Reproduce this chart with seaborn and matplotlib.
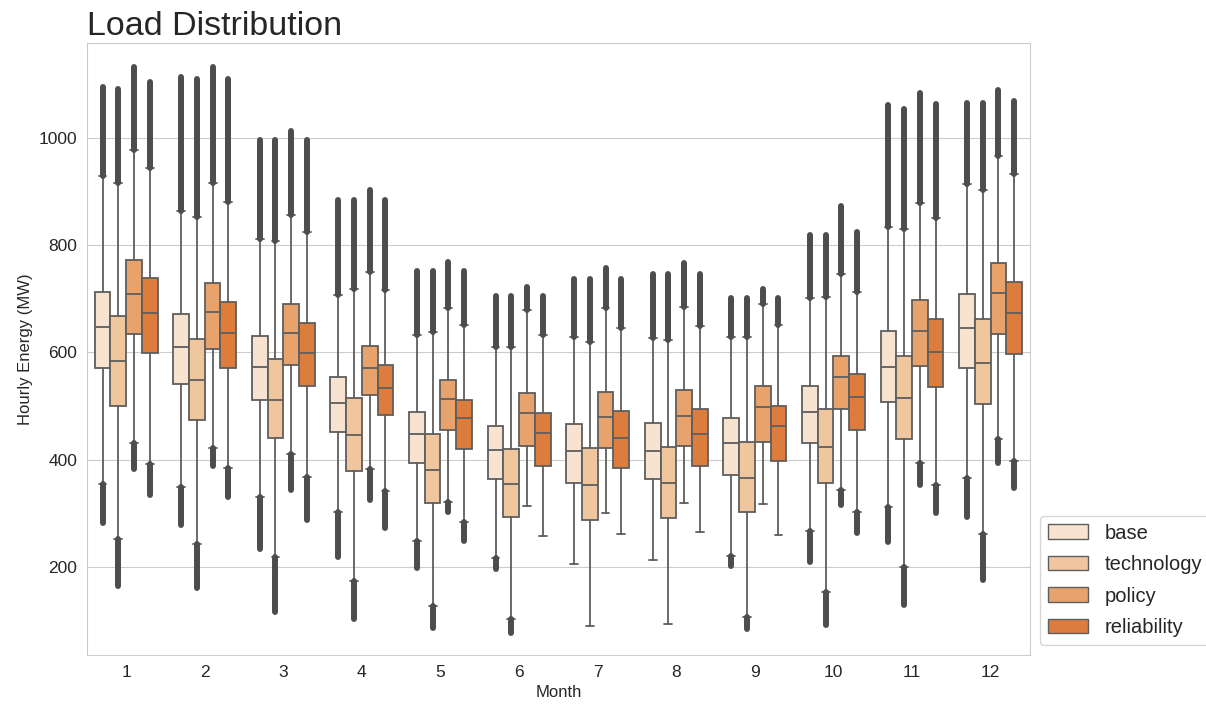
import numpy as np
import pandas as pd
import seaborn as sns
import matplotlib.pyplot as plt
from matplotlib.patches import Patch

# box stats, one row per scenario, one value per month
months = list(range(1, 13))
scenarios = ['base', 'technology', 'policy', 'reliability']
nan = np.nan

flier_top = [[1095, 1113, 997, 885, 752, 705, 736, 747, 701, 819, 1061, 1066],
             [1091, 1110, 997, 885, 752, 705, 736, 747, 701, 819, 1054, 1066],
             [1133, 1132, 1013, 903, 769, 722, 757, 766, 719, 873, 1083, 1089],
             [1105, 1110, 997, 885, 752, 705, 736, 747, 701, 825, 1063, 1068]]
whisker_hi = [[929, 864, 811, 707, 632, 610, 628, 626, 628, 701, 834, 914],
              [916, 853, 808, 719, 638, 610, 620, 623, 628, 703, 830, 903],
              [977, 916, 856, 749, 682, 679, 682, 685, 691, 747, 879, 966],
              [944, 881, 825, 716, 651, 632, 645, 649, 651, 713, 850, 933]]
q3 = [[713, 671, 631, 554, 489, 462, 466, 469, 477, 538, 640, 708],
      [668, 624, 587, 514, 448, 420, 421, 424, 432, 495, 593, 662],
      [772, 730, 690, 612, 548, 525, 526, 530, 538, 594, 698, 767],
      [738, 693, 654, 576, 512, 487, 490, 494, 500, 559, 662, 731]]
median = [[647, 610, 573, 505, 447, 418, 415, 416, 431, 488, 573, 646],
          [584, 548, 511, 446, 380, 354, 352, 357, 366, 424, 515, 581],
          [709, 676, 637, 570, 513, 486, 480, 482, 498, 554, 640, 711],
          [673, 637, 598, 533, 477, 449, 441, 447, 463, 517, 601, 674]]
q1 = [[570, 540, 511, 451, 393, 363, 357, 363, 372, 430, 507, 570],
      [500, 474, 440, 378, 319, 292, 288, 290, 303, 357, 438, 503],
      [635, 606, 576, 520, 456, 425, 421, 425, 433, 494, 574, 635],
      [598, 570, 538, 484, 420, 388, 385, 387, 398, 456, 536, 597]]
whisker_lo = [[355, 349, 331, 303, 248, 216, 206, 212, 220, 267, 312, 365],
              [252, 242, 219, 174, 127, 102, 89, 94, 107, 153, 200, 261],
              [431, 421, 410, 382, 321, 313, 301, 319, 317, 343, 393, 438],
              [392, 384, 368, 342, 284, 257, 261, 265, 260, 303, 352, 397]]
flier_bottom = [[282, 278, 234, 219, 197, 195, nan, nan, 201, 209, 247, 293],
                [164, 161, 116, 102, 85, 77, nan, nan, 83, 91, 128, 175],
                [382, 387, 343, 324, 303, nan, nan, nan, nan, 315, 352, 393],
                [334, 331, 287, 272, 248, nan, nan, nan, nan, 262, 300, 346]]

sns.set_style('whitegrid')
plt.rcParams['font.family'] = ['Liberation Sans', 'DejaVu Sans']

palette = [sns.desaturate(c, 0.75) for c in sns.color_palette('Oranges')[:4]]
line_col = '#5e5e5e'
flier_col = '#4d4d4d'

fig = plt.figure(figsize=(12.06, 7.06), dpi=100)
ax = fig.add_axes([0.072, 0.072, 0.782, 0.867])

offsets = [-0.3, -0.1, 0.1, 0.3]
for i, name in enumerate(scenarios):
    stats = []
    for m in range(12):
        stats.append({'med': median[i][m], 'q1': q1[i][m], 'q3': q3[i][m],
                      'whislo': whisker_lo[i][m], 'whishi': whisker_hi[i][m],
                      'fliers': []})
    pos = np.arange(12) + offsets[i]
    ax.bxp(stats, positions=pos, widths=0.2, patch_artist=True, showfliers=False,
           boxprops=dict(facecolor=palette[i], edgecolor=line_col, linewidth=1.3),
           medianprops=dict(color=line_col, linewidth=1.3),
           whiskerprops=dict(color=line_col, linewidth=1.3),
           capprops=dict(color=line_col, linewidth=1.3))
    # the dense outliers read as solid bars of diamonds
    ax.vlines(pos, whisker_hi[i], flier_top[i], color=flier_col, linewidth=4.3,
              capstyle='round', zorder=3)
    lo = np.array(flier_bottom[i], dtype=float)
    ok = ~np.isnan(lo)
    ax.vlines(pos[ok], lo[ok], np.array(whisker_lo[i])[ok], color=flier_col,
              linewidth=4.3, capstyle='round', zorder=3)

ax.set_xlim(-0.5, 11.5)
ax.set_ylim(35, 1177)
ax.set_xticks(range(12))
ax.set_xticklabels([str(m) for m in months])
ax.xaxis.grid(False)
ax.tick_params(labelsize=12.5)
ax.set_xlabel('Month', fontsize=12)
ax.set_ylabel('Hourly Energy (MW)', fontsize=12)
ax.set_title('Load Distribution', fontsize=24.5, loc='left')

handles = [Patch(facecolor=palette[i], edgecolor=line_col, linewidth=1.0, label=s)
           for i, s in enumerate(scenarios)]
ax.legend(handles=handles, loc='lower left', bbox_to_anchor=(1.0, 0.0), fontsize=14.5,
          labelspacing=0.62)

fig.savefig('out.png', dpi=100)
